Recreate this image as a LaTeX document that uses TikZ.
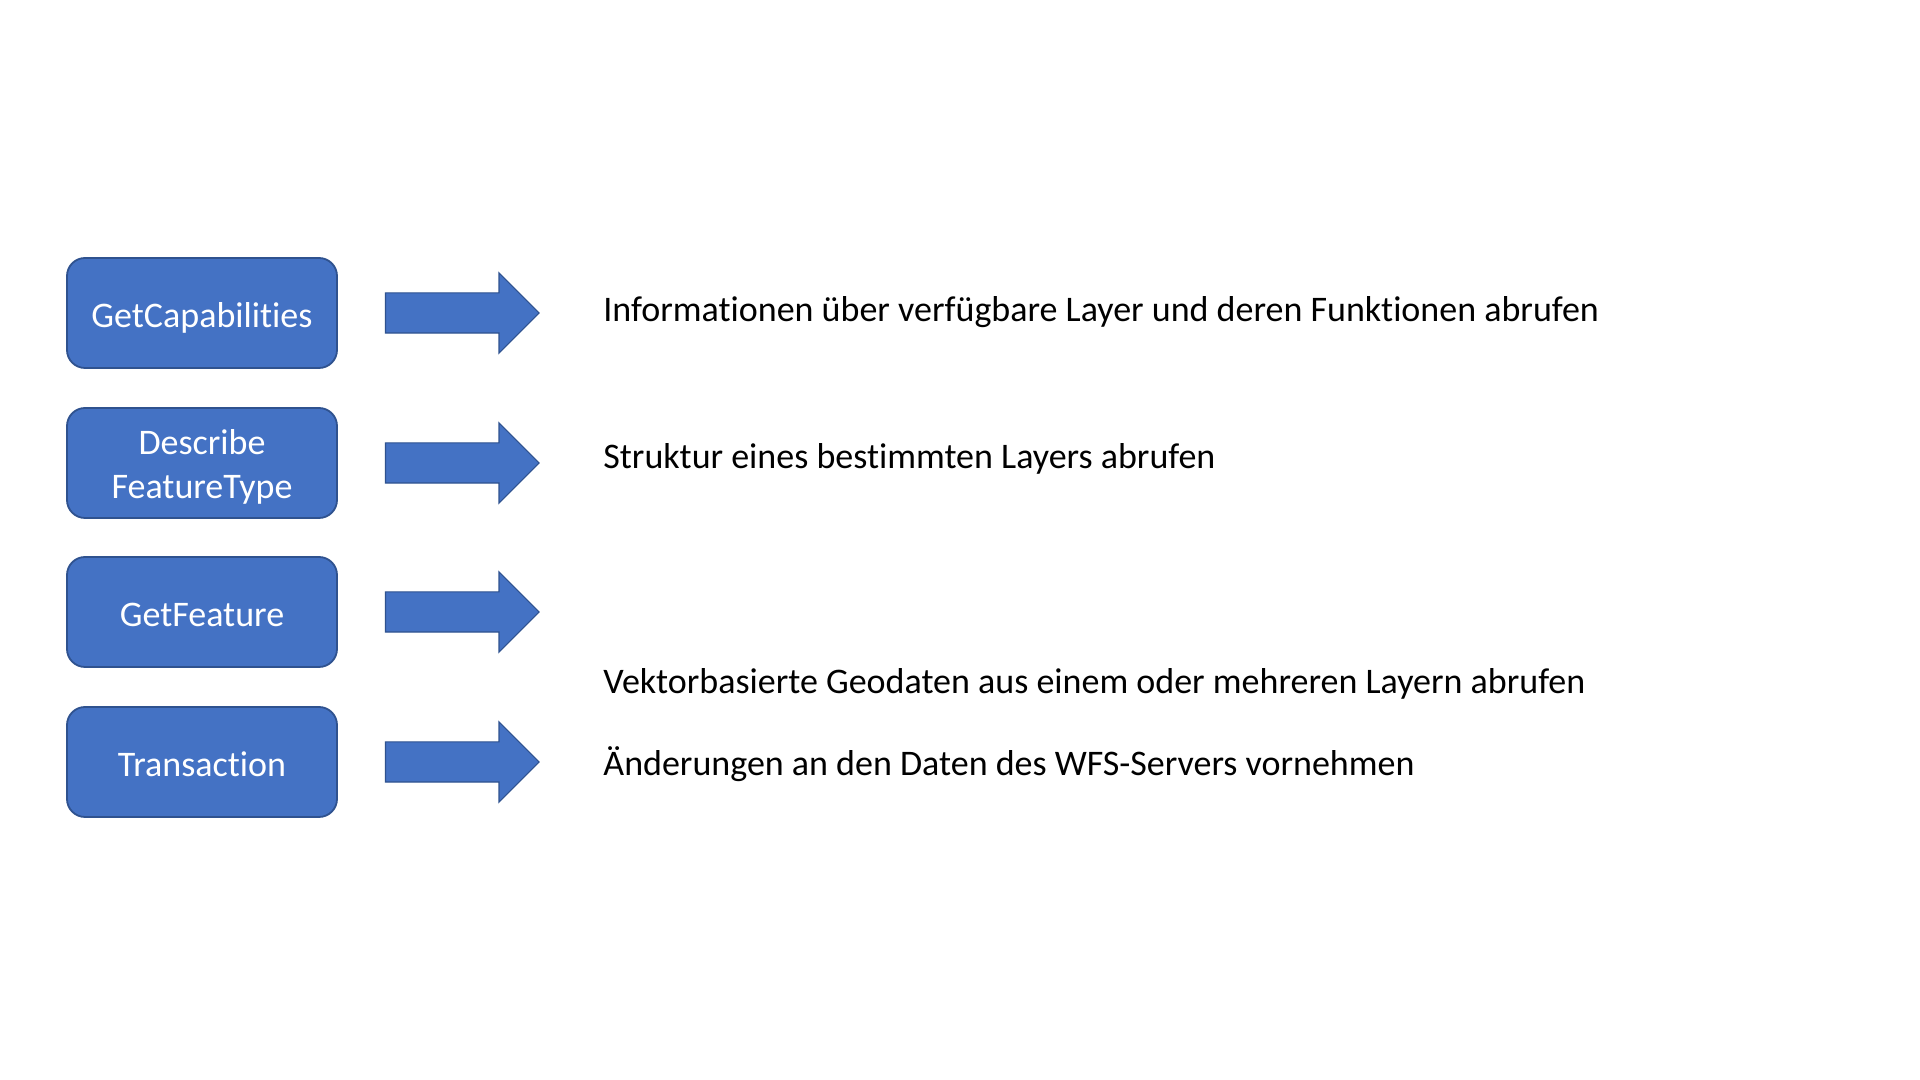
\documentclass[tikz,border=0pt]{standalone}
\usepackage{fontspec}
\setmainfont{Carlito}[Ligatures={NoCommon}]
\usetikzlibrary{positioning,shapes.arrows}

\definecolor{opblue}{HTML}{4472C4}
\definecolor{opedge}{HTML}{2F528F}

\begin{document}
\begin{tikzpicture}[x=1pt,y=1pt,
        op/.style={draw=opedge, line width=0.9pt, fill=opblue, rounded corners=9pt,
            minimum width=135pt, minimum height=55pt, text=white, align=center,
            text height=14.2pt, text depth=0pt, font=\fontsize{18}{22}\selectfont},
        blockarrow/.style={single arrow, draw=opedge, line width=0.6pt, fill=opblue,
            inner sep=0pt, inner ysep=9.75pt, minimum height=76.8pt,
            single arrow head extend=10pt, anchor=west},
        info/.style={anchor=base west, inner sep=0pt, font=\fontsize{18}{20}\selectfont}]
        \fill[white] (0,0) rectangle (960,540);
        \useasboundingbox (0,0) rectangle (960,540);

        % operations
        \node[op] (cap) at (101,383.5) {GetCapabilities};
        \node[op, text height=36pt] (dft) at (101,308.5) {Describe\\FeatureType};
        \node[op] (feat) at (101,234) {GetFeature};
        \node[op] (trans) at (101,159) {Transaction};

        % block arrows
        \foreach \n in {cap,dft,feat,trans}{
            \node[blockarrow, right=23.5pt of \n] (arr-\n) {};
        }

        % descriptions
        \node[info] (txt-cap) at (301.5,379) {Informationen über verfügbare Layer und deren Funktionen abrufen};
        \node[info] (txt-dft) at (301.5,305.5) {Struktur eines bestimmten Layers abrufen};
        \node[info] (txt-feat) at (301.5,193) {Vektorbasierte Geodaten aus einem oder mehreren Layern abrufen};
        \node[info] (txt-trans) at (301.5,152) {Änderungen an den Daten des WFS-Servers vornehmen};
    \end{tikzpicture}
\end{document}
